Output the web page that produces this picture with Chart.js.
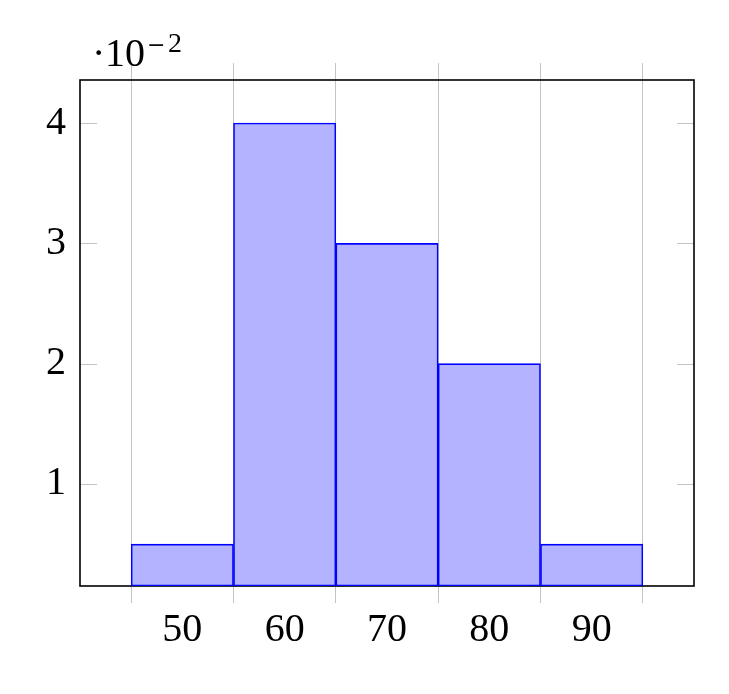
<!DOCTYPE html>
<html><head><meta charset="utf-8">
<script src="https://cdn.jsdelivr.net/npm/chart.js@4"></script>
<style>html,body{margin:0;padding:0;background:#fff}#wrap{width:729px;height:694px}</style>
</head><body><div id="wrap"><canvas id="c" width="729" height="694"></canvas></div>
<script>
const binCenters = [50, 60, 70, 80, 90];
const density = [0.005, 0.04, 0.03, 0.02, 0.005];
const xTicks = [50, 60, 70, 80, 90];
const yTicks = [0.01, 0.02, 0.03, 0.04];
const xMin = 40, xMax = 100, yMin = 0.00152, yMax = 0.04358;

const FONT = "'Liberation Serif', 'DejaVu Serif', serif";
const GRID = '#c4c4c4';

const extras = {
  id: 'extras',
  beforeDatasetsDraw(chart) {
    const {ctx, chartArea: a, scales: {y}} = chart;
    ctx.save();
    ctx.strokeStyle = GRID; ctx.lineWidth = 1;
    yTicks.forEach(v => {
      const py = Math.round(y.getPixelForValue(v)) + 0.5;
      ctx.beginPath(); ctx.moveTo(a.left, py); ctx.lineTo(a.left + 17, py); ctx.stroke();
      ctx.beginPath(); ctx.moveTo(a.right - 17, py); ctx.lineTo(a.right, py); ctx.stroke();
    });
    ctx.strokeStyle = '#000'; ctx.lineWidth = 1.6;
    ctx.strokeRect(a.left, a.top, a.right - a.left, a.bottom - a.top);
    ctx.restore();
  },
  afterDraw(chart) {
    const {ctx} = chart;
    ctx.save();
    ctx.fillStyle = '#000';
    ctx.textBaseline = 'alphabetic';
    ctx.font = '40px ' + FONT;
    ctx.fillText('·', 92, 66);
    ctx.fillText('10', 105, 66);
    ctx.font = "22px 'DejaVu Serif', serif";
    ctx.fillText('−', 147, 52);
    ctx.font = '28px ' + FONT;
    ctx.fillText('2', 168, 52);
    ctx.restore();
  }
};

new Chart(document.getElementById('c'), {
  type: 'bar',
  data: {
    datasets: [{
      data: binCenters.map((x, i) => ({x, y: density[i]})),
      backgroundColor: 'rgb(179,179,255)',
      borderColor: 'rgb(0,0,255)',
      borderWidth: 1.6,
      borderSkipped: false,
      base: yMin,
      barPercentage: 1,
      categoryPercentage: 1,
      grouped: false
    }]
  },
  options: {
    responsive: false,
    animation: false,
    devicePixelRatio: 1,
    layout: {padding: 0},
    plugins: {legend: {display: false}, tooltip: {enabled: false}},
    scales: {
      x: {
        type: 'linear', position: 'bottom', min: xMin, max: xMax, offset: false,
        afterBuildTicks: s => { s.ticks = xTicks.map(v => ({value: v})); },
        afterFit: s => { s.height = 108; },
        grid: {offset: true, color: GRID, lineWidth: 1, tickLength: 17, drawTicks: true},
        border: {display: false},
        ticks: {color: '#000', font: {family: FONT, size: 40}, padding: 3, maxRotation: 0, autoSkip: false}
      },
      x2: {
        type: 'linear', position: 'top', min: xMin, max: xMax, offset: false,
        afterBuildTicks: s => { s.ticks = xTicks.map(v => ({value: v})); },
        afterFit: s => { s.height = 80; },
        grid: {offset: true, color: GRID, lineWidth: 1, tickLength: 17, drawOnChartArea: false},
        border: {display: false},
        ticks: {display: false}
      },
      y: {
        type: 'linear', position: 'left', min: yMin, max: yMax,
        afterBuildTicks: s => { s.ticks = yTicks.map(v => ({value: v})); },
        afterFit: s => { s.width = 80; },
        grid: {display: false},
        border: {display: false},
        ticks: {color: '#000', font: {family: FONT, size: 40}, padding: 6, callback: v => String(Math.round(v * 100))}
      },
      y2: {
        type: 'linear', position: 'right', min: yMin, max: yMax,
        afterFit: s => { s.width = 35; },
        grid: {display: false},
        border: {display: false},
        ticks: {display: false}
      }
    }
  },
  plugins: [extras]
});
</script></body></html>
